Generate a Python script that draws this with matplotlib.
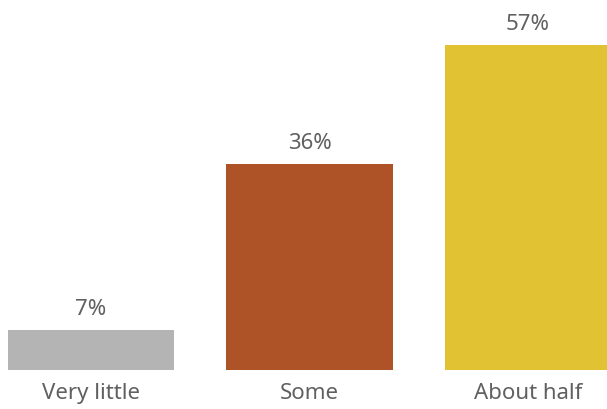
import matplotlib
matplotlib.use("Agg")
import matplotlib.pyplot as plt

categories = ["Very little", "Some", "About half"]
values = [7, 36, 57]
colors = ["#b4b4b4", "#ae5227", "#e0c233"]

W, H = 607, 410
fig = plt.figure(figsize=(W / 100, H / 100), dpi=100)
ax = fig.add_axes([0, 39 / H, 1, (H - 39) / H])
x = list(range(len(categories)))
ax.bar(x, values, width=0.76, color=colors)
ax.set_xlim(-91 / 218.5, (607 - 91) / 218.5)
ax.set_ylim(0, 371 / 5.71)
for xi, v in zip(x, values):
    ax.annotate(f"{v}%", (xi, v), xytext=(0, 11), textcoords="offset pixels",
                ha="center", va="bottom", fontsize=16, color="#606060",
                family="Noto Sans")
for xi, c in zip(x, categories):
    ax.annotate(c, (xi, 0), xytext=(0, -12), textcoords="offset pixels",
                ha="center", va="top", fontsize=16, color="#606060",
                family="Noto Sans")
ax.axis("off")
fig.savefig("out.png", dpi=100)
